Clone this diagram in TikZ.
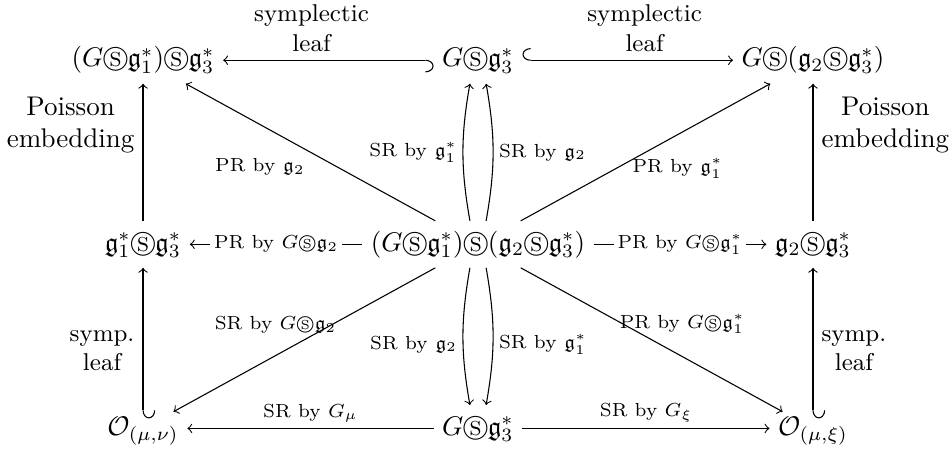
\documentclass[tikz,border=0pt]{standalone}
\usepackage{amsmath}
\usepackage{amssymb}
\usepackage{tikz}
\usetikzlibrary{arrows.meta}
\newcommand{\sdp}{\circledS}
\newcommand{\fg}{\mathfrak{g}}
\tikzset{
  cell/.style={anchor=base,inner xsep=3pt,inner ysep=3.5pt,text height=7.5pt,text depth=2.5pt},
  orbit/.style={cell,text height=6.5pt,text depth=1.5pt,inner ysep=2pt},
  lbl/.style={font=\scriptsize,inner sep=2pt},
  side/.style={align=center,inner sep=3pt},
  mid/.style={lbl,fill=white,inner sep=1.5pt},
}

\begin{document}
\begin{tikzpicture}[x=4.36cm,y=2.396cm,>=to]
  \useasboundingbox (-0.427,-0.098) rectangle (2.406,2.364);
  % the nine spaces
  \node[cell] (tl) at (0,2) {$(G\sdp\fg_1^*)\sdp\fg_3^*$};
  \node[cell] (tc) at (1,2) {$G\sdp\fg_3^*$};
  \node[cell] (tr) at (2,2) {$G\sdp(\fg_2\sdp\fg_3^*)$};
  \node[cell] (ml) at (0,1) {$\fg_1^*\sdp\fg_3^*$};
  \node[cell] (mc) at (1,1) {$(G\sdp\fg_1^*)\sdp(\fg_2\sdp\fg_3^*)$};
  \node[cell] (mr) at (2,1) {$\fg_2\sdp\fg_3^*$};
  \node[orbit] (bl) at (0,0) {$\mathcal{O}_{(\mu,\nu)}$};
  \node[cell] (bc) at (1,0) {$G\sdp\fg_3^*$};
  \node[orbit] (br) at (2,0) {$\mathcal{O}_{(\mu,\xi)}$};
  % top row
  \draw[{Hooks[right,length=3pt,width=9pt]}->] (tc) -- node[side,font=\small,above,pos=0.58] {symplectic\\leaf} (tl);
  \draw[{Hooks[right,length=3pt,width=9pt]}->] (tc) -- node[side,font=\small,above,pos=0.58] {symplectic\\leaf} (tr);
  % outer columns
  \draw[->] (ml) -- node[side,left,pos=0.7] {Poisson\\embedding} (tl);
  \draw[->] (mr) -- node[side,right,pos=0.7] {Poisson\\embedding} (tr);
  \draw[{Hooks[left,length=3pt,width=9pt]}->] ([yshift=-2.5pt]bl.north) -- node[side,font=\small,left,pos=0.45] {symp.\\leaf} (ml);
  \draw[{Hooks[left,length=3pt,width=9pt]}->] ([yshift=-2.5pt]br.north) -- node[side,font=\small,right,pos=0.45] {symp.\\leaf} (mr);
  % out of the middle
  \draw[->] (mc) -- node[lbl,below left] {PR by $\fg_2$} (tl);
  \draw[->] (mc) -- node[lbl,below right,xshift=-7pt] {PR by $\fg_1^*$} (tr);
  \draw[->] ([xshift=-3pt]mc.north) to[bend left=10] node[lbl,left] {SR by $\fg_1^*$} ([xshift=-3pt]tc.south);
  \draw[->] ([xshift=3pt]mc.north) to[bend right=10] node[lbl,right] {SR by $\fg_2$} ([xshift=3pt]tc.south);
  \draw[->] (mc) -- node[mid] {PR by $G\sdp\fg_2$} (ml);
  \draw[->] (mc) -- node[mid] {PR by $G\sdp\fg_1^*$} (mr);
  \draw[->] (mc) -- node[lbl,above left,xshift=14pt] {SR by $G\sdp\fg_2$} (bl);
  \draw[->] (mc) -- node[lbl,above right,xshift=-14pt] {PR by $G\sdp\fg_1^*$} (br);
  \draw[->] ([xshift=-3pt]mc.south) to[bend right=10] node[lbl,left,yshift=-3pt] {SR by $\fg_2$} ([xshift=-3pt]bc.north);
  \draw[->] ([xshift=3pt]mc.south) to[bend left=10] node[lbl,right,yshift=-3pt] {SR by $\fg_1^*$} ([xshift=3pt]bc.north);
  % bottom row
  \draw[->] (bc) -- node[lbl,above] {SR by $G_\mu$} (bl);
  \draw[->] (bc) -- node[lbl,above] {SR by $G_\xi$} (br);
\end{tikzpicture}
\end{document}
